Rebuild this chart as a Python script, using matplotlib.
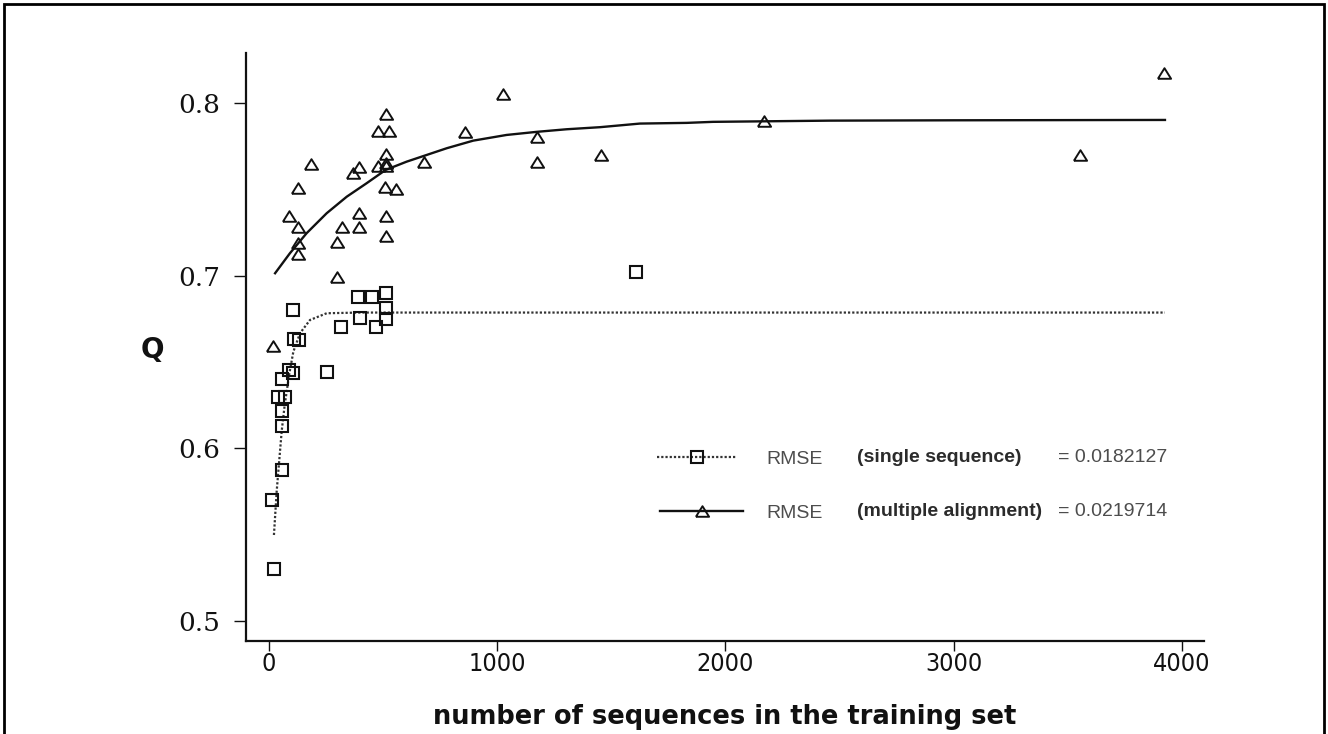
import matplotlib
matplotlib.use("Agg")
import matplotlib.pyplot as plt
from matplotlib.lines import Line2D
from matplotlib.patches import Rectangle
import logging
logging.getLogger("matplotlib.font_manager").setLevel(logging.ERROR)

# ---------------- data ----------------
# single sequence: observed points (squares)
single_x = [512, 392, 451, 105, 512, 400, 512, 315, 470, 112, 132, 90, 106, 256,
            57, 40, 72, 57, 57, 58, 15, 23, 1609]
single_y = [0.6903, 0.6880, 0.6880, 0.6800, 0.6812, 0.6754, 0.6748, 0.6702, 0.6702,
            0.6635, 0.6630, 0.6454, 0.6439, 0.6444, 0.6400, 0.6300, 0.6300, 0.6215,
            0.6130, 0.5872, 0.5702, 0.5302, 0.7021]

# multiple alignment: observed points (triangles)
multi_x = [1028, 512, 480, 527, 861, 1174, 512, 187, 395, 371, 480, 512, 515, 680,
           1174, 1455, 128, 511, 556, 89, 130, 128, 128, 395, 320, 395, 300, 512,
           512, 298, 20, 2171, 3554, 3923]
multi_y = [0.8055, 0.7940, 0.7840, 0.7840, 0.7836, 0.7807, 0.7707, 0.7650, 0.7630,
           0.7595, 0.7637, 0.7637, 0.7655, 0.7660, 0.7660, 0.7701, 0.7508, 0.7517,
           0.7502, 0.7347, 0.7282, 0.7189, 0.7127, 0.7363, 0.7286, 0.7286, 0.7195,
           0.7347, 0.7233, 0.6995, 0.6593, 0.7900, 0.7701, 0.8179]

# fitted curves
fit_single_x = [23, 35, 45, 57, 70, 90, 108, 137, 181, 254, 400, 3926]
fit_single_y = [0.5497, 0.5750, 0.5910, 0.6100, 0.6250, 0.6430, 0.6560, 0.6667,
                0.6744, 0.6783, 0.6787, 0.6787]

fit_multi_x = [28, 93, 166, 254, 342, 429, 512, 604, 780, 896, 1042, 1174, 1305,
               1451, 1626, 1831, 1946, 2458, 3000, 3926]
fit_multi_y = [0.7015, 0.7131, 0.7247, 0.7363, 0.7459, 0.7537, 0.7614, 0.7662,
               0.7740, 0.7784, 0.7817, 0.7835, 0.7850, 0.7862, 0.7883, 0.7887,
               0.7893, 0.7900, 0.7902, 0.7904]

x_ticks = [0, 1000, 2000, 3000, 4000]
y_ticks = [0.5, 0.6, 0.7, 0.8]

legend_names = ["RMSE", "RMSE"]
legend_groups = ["(single sequence)", "(multiple alignment)"]
legend_values = ["= 0.0182127", "= 0.0219714"]

x_label = "number of sequences in the training set"
y_label = "Q"

# ---------------- figure ----------------
W, H = 1328, 734
fig = plt.figure(figsize=(W / 100, H / 100), dpi=100)
fig.patch.set_facecolor("white")


def fx(px):
    return px / W


def fy(py):
    return 1 - py / H


ax = fig.add_axes([fx(245.7), fy(640.7), fx(1204) - fx(245.7), fy(52.7) - fy(640.7)])
ax.set_xlim(-100.7, 4097)
ax.set_ylim(0.4884, 0.8294)

tri = [(-1, -0.8), (1, -0.8), (0, 0.8), (-1, -0.8)]

ax.plot(fit_single_x, fit_single_y, color="#333333", lw=1.6,
        linestyle=(0, (1, 0.9)), zorder=2)
ax.plot(fit_multi_x, fit_multi_y, color="#111111", lw=1.7, zorder=2)
ax.plot(single_x, single_y, linestyle="none", marker="s", ms=8.5, mfc="none",
        mec="#111111", mew=1.5, zorder=3)
ax.plot(multi_x, multi_y, linestyle="none", marker=tri, ms=9.5, mfc="none",
        mec="#111111", mew=1.4, zorder=3)

for s in ["top", "right"]:
    ax.spines[s].set_visible(False)
for s in ["left", "bottom"]:
    ax.spines[s].set_linewidth(1.6)
    ax.spines[s].set_color("#111111")

ax.set_xticks(x_ticks)
ax.set_xticklabels([str(v) for v in x_ticks])
ax.set_yticks(y_ticks)
ax.set_yticklabels([f"{v:.1f}" for v in y_ticks])
ax.tick_params(axis="y", direction="out", length=9, width=1.0, pad=9.5,
               labelsize=19, colors="#111111")
ax.tick_params(axis="x", direction="out", length=7, width=1.0, pad=1,
               labelsize=18, colors="#111111")
for lab in ax.get_yticklabels():
    lab.set_family("DejaVu Serif")
for lab in ax.get_xticklabels():
    lab.set_family(["DejaVu Sans Condensed", "Liberation Sans Narrow", "DejaVu Sans"])
    lab.set_fontstretch("condensed")

ax.set_xlabel(x_label, fontsize=18.5, fontweight="bold", family="DejaVu Sans",
              va="baseline", color="#111111")
ax.xaxis.set_label_coords(0.5, (640.7 - 724) / (640.7 - 52.7))
ax.set_ylabel(y_label, fontsize=20, fontweight="bold", family="DejaVu Sans",
              rotation=0, ha="center", va="center", color="#111111")
ax.yaxis.set_label_coords((152 - 245.7) / (1204 - 245.7), (640.7 - 350) / (640.7 - 52.7))

# ---------------- legend (drawn by hand) ----------------
rows_y = [457, 511]
styles = [
    dict(color="#333333", lw=1.6, linestyle=(0, (1, 0.9)), marker="s", ms=8.5,
         mfc="none", mec="#111111", mew=1.5),
    dict(color="#111111", lw=1.7, linestyle="-", marker=tri, ms=9.5,
         mfc="none", mec="#111111", mew=1.4),
]
line_x = [(657, 737), (660, 743)]
for i, ry in enumerate(rows_y):
    x0, x1 = line_x[i]
    st = dict(styles[i])
    mk = st.pop("marker")
    ms = st.pop("ms")
    mfc = st.pop("mfc")
    mec = st.pop("mec")
    mew = st.pop("mew")
    fig.add_artist(Line2D([fx(x0), fx(x1)], [fy(ry), fy(ry)],
                          transform=fig.transFigure, **st))
    fig.add_artist(Line2D([fx((x0 + x1) / 2)], [fy(ry)], transform=fig.transFigure,
                          linestyle="none", marker=mk, ms=ms, mfc=mfc, mec=mec, mew=mew))
    fig.text(fx(766), fy(ry + 2), legend_names[i], fontsize=14,
             family=["Liberation Sans", "DejaVu Sans"], color="#4d4d4d",
             ha="left", va="center")
    fig.text(fx(857), fy(ry + 1), legend_groups[i], fontsize=14, fontweight="bold",
             family=["Liberation Sans", "DejaVu Sans"], color="#2b2b2b",
             ha="left", va="center")
    fig.text(fx(1058), fy(ry + 1), legend_values[i], fontsize=14,
             family=["Liberation Sans", "DejaVu Sans"], color="#4d4d4d",
             ha="left", va="center")

# outer frame
fig.add_artist(Rectangle((fx(4), fy(760)), fx(1324) - fx(4), fy(4) - fy(760),
                         transform=fig.transFigure, fill=False, lw=2.0,
                         edgecolor="black"))

fig.savefig("out.png", dpi=100, facecolor="white")
